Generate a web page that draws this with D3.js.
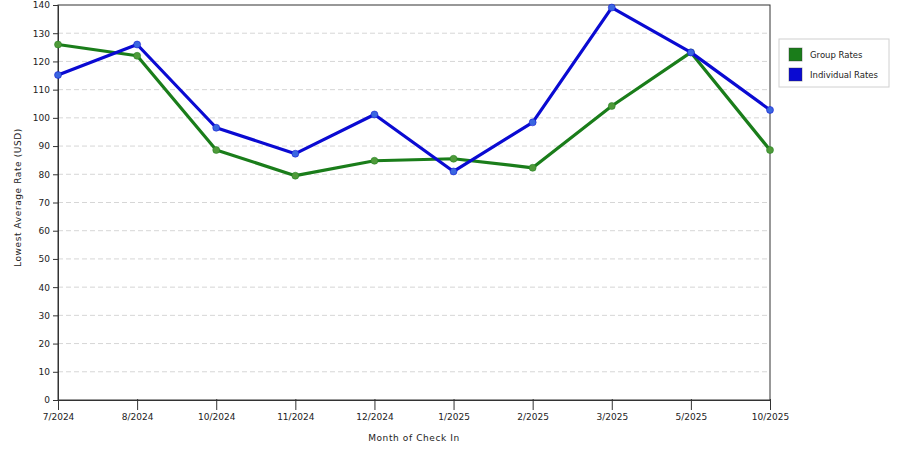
<!DOCTYPE html>
<meta charset="utf-8">
<script src="https://d3js.org/d3.v7.min.js"></script>
<style>
  body { margin: 0; background: #fff; }
  text { font-family: "DejaVu Sans", Verdana, sans-serif; fill: #222; }
</style>
<body>
<div id="chart"></div>
<script>

// Months on the x axis
var months = ["7/2024", "8/2024", "10/2024", "11/2024", "12/2024",
              "1/2025", "2/2025", "3/2025", "5/2025", "10/2025"];

// Lowest average rate per month (USD)
var groupRates      = [126, 122, 88.6, 79.5, 84.8, 85.5, 82.3, 104.2, 123.2, 88.6];
var individualRates = [115.2, 126, 96.5, 87.3, 101.2, 81, 98.4, 139.1, 123.2, 102.8];

var yTicks = d3.range(0, 141, 10);

var seriesNames  = ["Group Rates", "Individual Rates"];
var seriesColors = ["#1a7d1a", "#0a0ad2"];
var seriesFill   = ["#4f9a3a", "#3a66e0"];

var margin = {top: 5, right: 130, bottom: 50, left: 58},
    width = 900 - margin.left - margin.right,
    height = 450 - margin.top - margin.bottom;

var svg = d3.select("#chart")
  .append("svg")
    .attr("width", 900)
    .attr("height", 450)
  .append("g")
    .attr("transform", "translate(" + margin.left + "," + margin.top + ")");

var x = d3.scalePoint()
    .domain(months)
    .range([0, 712]);

var y = d3.scaleLinear()
    .domain([0, 140])
    .range([height, 0]);

// dashed grid
svg.append("g")
  .selectAll("line")
  .data(yTicks.filter(function(d) { return d > 0 && d < 140; }))
  .enter()
  .append("line")
    .attr("x1", 0)
    .attr("x2", 712)
    .attr("y1", function(d) { return y(d); })
    .attr("y2", function(d) { return y(d); })
    .attr("stroke", "#d6d6d6")
    .attr("stroke-dasharray", "5,3");

// frame
svg.append("rect")
  .attr("x", 0).attr("y", 0)
  .attr("width", 712).attr("height", height)
  .attr("fill", "none")
  .attr("stroke", "#333");

// Y axis
var yAxis = svg.append("g")
  .call(d3.axisLeft(y).tickValues(yTicks).tickSize(5).tickPadding(3));
yAxis.select(".domain").attr("stroke", "#333");
yAxis.selectAll(".tick line").attr("stroke", "#333");
yAxis.selectAll("text").style("font-size", "9px").attr("fill", "#222");

// X axis
var xAxis = svg.append("g")
  .attr("transform", "translate(0," + height + ")")
  .call(d3.axisBottom(x).tickSize(10).tickPadding(4));
xAxis.select(".domain").attr("stroke", "#333");
xAxis.selectAll(".tick line").attr("stroke", "#333").attr("y1", -1);
xAxis.selectAll("text").style("font-size", "9px").attr("fill", "#222");

// axis titles
svg.append("text")
  .attr("text-anchor", "middle")
  .attr("x", 356)
  .attr("y", height + 41)
  .style("font-size", "9px")
  .style("letter-spacing", "0.6px")
  .text("Month of Check In");

svg.append("text")
  .attr("text-anchor", "middle")
  .attr("transform", "translate(-37," + (height / 2 - 5) + ") rotate(-90)")
  .style("font-size", "9px")
  .style("letter-spacing", "0.6px")
  .text("Lowest Average Rate (USD)");

// lines and markers
var line = d3.line()
  .x(function(d, i) { return x(months[i]); })
  .y(function(d) { return y(d); });

[groupRates, individualRates].forEach(function(vals, k) {
  svg.append("path")
    .datum(vals)
    .attr("d", line)
    .attr("fill", "none")
    .attr("stroke", seriesColors[k])
    .attr("stroke-width", 3.2)
    .attr("stroke-linejoin", "round");

  svg.append("g")
    .selectAll("circle")
    .data(vals)
    .enter()
    .append("circle")
      .attr("cx", function(d, i) { return x(months[i]); })
      .attr("cy", function(d) { return y(d); })
      .attr("r", 3.5)
      .attr("fill", seriesFill[k])
      .attr("stroke", seriesColors[k])
      .attr("stroke-opacity", 0.5)
      .attr("stroke-width", 1);
});

// legend
var legend = svg.append("g")
  .attr("transform", "translate(" + (779 - margin.left) + "," + (39 - margin.top) + ")");

legend.append("rect")
  .attr("width", 110).attr("height", 48)
  .attr("fill", "#fff")
  .attr("stroke", "#d0d0d0");

seriesNames.forEach(function(name, k) {
  legend.append("rect")
    .attr("x", 10).attr("y", 9 + k * 20)
    .attr("width", 13).attr("height", 13)
    .attr("fill", seriesColors[k])
    .attr("stroke", "#333")
    .attr("stroke-opacity", 0.4);
  legend.append("text")
    .attr("x", 31).attr("y", 19 + k * 20)
    .style("font-size", "8.5px")
    .text(name);
});

</script>
</body>
</html>
